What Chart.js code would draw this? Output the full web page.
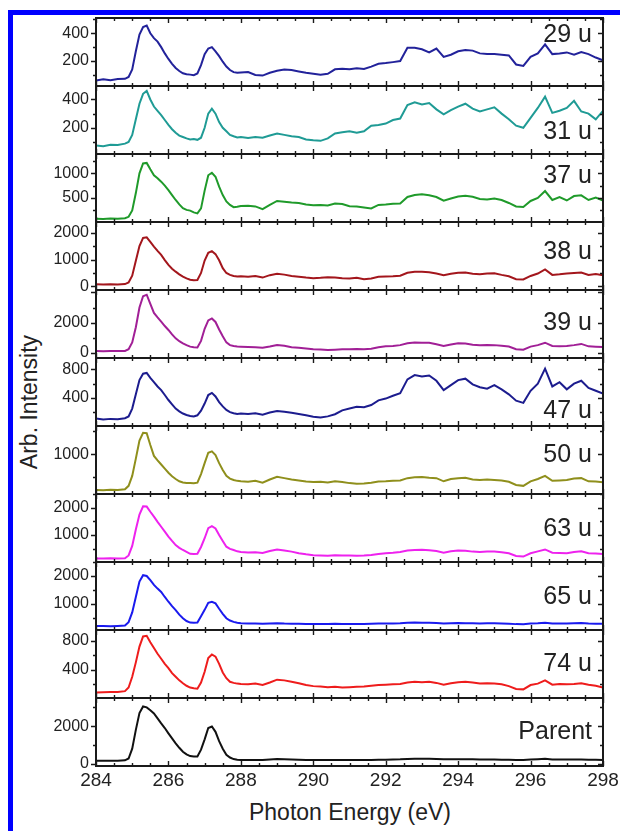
<!DOCTYPE html>
<html><head><meta charset="utf-8">
<script src="https://cdn.jsdelivr.net/npm/chart.js@4.4.1/dist/chart.umd.min.js"></script>
<style>
html,body{margin:0;padding:0;background:#fff;}
body{width:620px;height:831px;overflow:hidden;position:relative;font-family:"Liberation Sans",Arial,sans-serif;}
#frame{position:absolute;left:8px;top:10px;width:620px;height:830px;border-top:5px solid #0000ff;border-left:5px solid #0000ff;box-sizing:border-box;}
canvas{position:absolute;left:0;}
.lab{position:absolute;right:28px;font-size:25px;line-height:25px;color:#222;white-space:nowrap;}
#ytitle{position:absolute;left:29px;top:402px;width:240px;text-align:center;font-size:23px;line-height:23px;color:#222;transform:translate(-50%,-50%) rotate(-90deg);}
#xtitle{position:absolute;left:350px;top:801px;transform:translateX(-50%);font-size:23px;line-height:23px;color:#222;white-space:nowrap;}
</style></head>
<body>
<div id="frame"></div>
<div id="ytitle">Arb. Intensity</div>
<div id="xtitle">Photon Energy (eV)</div>
<script>
// Photon energy grid (eV)
const energy = [284.0,284.2,284.4,284.6,284.8,
284.9,285.0,285.1,285.2,285.3,285.4,285.5,285.6,285.7,285.8,285.9,286.0,286.1,286.2,286.3,286.4,286.5,286.6,286.7,286.8,286.9,287.0,287.1,287.2,287.3,287.4,287.5,287.6,287.7,287.8,287.9,
288.0,288.2,288.4,288.6,288.8,289.0,289.2,289.4,289.6,289.8,290.0,290.2,290.4,290.6,290.8,291.0,291.2,291.4,291.6,291.8,292.0,292.2,292.4,292.6,292.8,293.0,293.2,293.4,293.6,293.8,294.0,294.2,294.4,294.6,294.8,295.0,295.2,295.4,295.6,295.8,296.0,296.2,296.4,296.6,296.8,297.0,297.2,297.4,297.6,297.8,298.0];

const panelNames = ["29 u","31 u","37 u","38 u","39 u","47 u","50 u","63 u","65 u","74 u","Parent"];

const s29 = [60,68,62,70,72,
85,140,270,390,445,455,400,365,340,300,255,215,180,150,128,112,105,102,98,110,170,250,290,300,270,235,195,160,135,120,115,
118,120,100,95,115,130,138,135,125,115,108,102,108,140,145,140,148,142,160,180,185,192,200,295,295,285,262,290,230,245,270,280,275,255,250,250,245,240,175,165,230,255,320,250,255,262,245,265,250,225,205];
const s31 = [75,70,80,78,88,
100,150,260,370,440,460,400,350,320,290,255,220,190,165,145,135,125,118,120,115,130,200,300,335,300,240,200,175,150,140,132,
135,128,135,130,145,160,150,140,135,118,112,108,125,160,168,175,165,175,215,220,230,255,265,360,380,365,375,330,295,325,350,370,335,315,330,345,300,260,215,200,270,340,420,305,320,340,390,315,300,260,320];
const s37 = [80,75,85,82,90,
120,250,600,1000,1200,1210,1080,960,900,830,750,660,560,460,370,295,260,245,210,190,290,650,960,1010,930,730,560,430,360,315,325,
340,345,330,275,360,440,425,410,400,370,355,360,350,390,380,335,330,310,290,360,370,385,390,520,560,575,555,520,445,490,530,545,525,480,470,490,460,400,330,320,440,500,640,460,520,450,540,555,460,510,450];
const s38 = [80,70,85,75,90,
150,400,950,1500,1800,1820,1650,1480,1320,1170,980,800,660,550,450,365,300,250,235,240,500,960,1250,1310,1200,970,680,500,430,390,370,
380,360,385,330,420,470,440,390,360,330,310,320,345,330,310,300,320,270,300,360,370,380,400,510,550,545,530,480,420,470,510,520,470,450,480,490,430,380,270,260,390,480,630,430,450,480,500,520,430,460,420];
const s39 = [130,120,135,125,140,
250,700,1700,3000,3750,3850,3250,2650,2350,2070,1780,1520,1230,970,780,640,520,420,380,360,800,1600,2150,2280,2050,1550,1100,700,520,460,430,
420,400,380,350,430,530,480,380,340,300,250,230,200,220,240,250,260,240,280,380,440,470,520,640,690,680,670,580,470,560,640,620,540,520,530,520,480,430,250,220,420,520,680,470,450,460,520,600,440,420,390];
const s47 = [110,95,105,100,115,
140,250,450,650,740,750,680,620,560,510,440,370,310,250,210,180,160,145,140,155,220,320,440,470,420,340,280,230,200,185,175,
180,175,185,165,195,215,205,190,175,155,135,125,140,170,225,250,275,270,300,365,390,430,465,660,720,700,715,640,510,580,650,670,590,550,530,580,520,450,360,330,500,600,810,560,620,520,600,640,540,500,460];
const s50 = [210,205,215,210,225,
300,520,900,1300,1470,1460,1200,960,860,770,680,590,510,450,400,375,365,360,355,370,560,800,1030,1060,980,800,650,520,460,430,410,
400,390,410,370,440,500,470,440,420,395,385,390,375,400,385,360,345,350,370,395,400,410,420,470,490,495,480,470,400,450,470,480,440,430,440,430,420,390,320,300,400,450,520,410,420,430,460,470,400,395,380];
const s63 = [140,135,145,140,150,
250,600,1200,1750,2050,2040,1850,1670,1480,1300,1120,940,780,630,530,450,380,310,300,310,560,880,1250,1320,1240,1000,780,570,490,450,400,
380,360,370,340,410,470,430,390,330,290,260,250,240,255,250,245,240,250,270,300,330,350,380,430,450,455,440,410,350,400,430,420,390,380,390,395,370,330,230,210,330,400,470,350,340,330,380,400,330,320,300];
const s65 = [210,215,205,215,230,
350,700,1250,1800,2030,2000,1850,1680,1550,1430,1250,1080,920,780,620,490,390,335,325,340,560,790,1040,1080,1020,830,650,490,410,360,330,
310,300,305,290,300,315,300,295,290,285,280,285,280,290,285,280,285,280,290,300,305,300,310,330,335,330,325,320,300,315,320,315,310,305,310,310,305,295,280,275,300,310,330,300,305,300,310,320,300,295,290];
const s74 = [80,85,90,88,100,
150,300,500,720,860,870,780,700,620,550,480,420,350,300,250,210,175,150,140,135,220,370,560,610,580,480,360,280,230,215,205,
200,195,205,185,220,260,250,230,210,185,170,165,155,160,150,155,160,165,175,185,190,195,200,220,230,225,230,215,190,210,225,230,220,205,210,205,195,170,130,125,185,205,250,190,200,195,200,210,190,175,150];
const sParent = [160,165,160,165,180,
280,800,1800,2700,3050,3000,2850,2680,2420,2150,1900,1620,1350,1090,850,640,500,410,380,390,750,1300,1900,1980,1700,1200,800,480,330,250,215,
200,195,200,205,230,250,240,225,215,205,200,195,200,195,200,195,200,195,200,210,215,225,235,255,270,265,260,250,235,240,245,240,235,225,220,220,215,210,200,205,225,240,260,230,225,220,225,230,215,210,205];

const series = [s29,s31,s37,s38,s39,s47,s50,s63,s65,s74,sParent];
const colors = ["#22229a","#1f9b95","#1f9a2a","#a3161c","#a11f96","#1c1c8e","#8f8f1c","#ee22ee","#1a1aee","#ee1c1c","#111111"];

// y ranges and tick labels per panel
const yMin = [20,15,15,-130,-330,5,120,10,70,5,-120];
const yMax = [510,495,1390,2390,4160,960,1620,2500,2500,950,3500];
const yTickLabels = [[200,400],[200,400],[500,1000],[0,1000,2000],[0,2000],[400,800],[1000],[1000,2000],[1000,2000],[400,800],[0,2000]];
const yTickStep = [200,200,500,1000,2000,400,1000,1000,1000,400,2000];
const xTickLabels = [284,286,288,290,292,294,296,298];

const labelCenterY = [33,130,174,250,321,409,453,527,595,662,730];

const TOP = 18, BOTTOM = 766, N = 11, PH = (BOTTOM - TOP) / N, PAD = 14, YW = 96, RP = 17;

const framePlugin = {
  id: 'frameTicks',
  afterDatasetsDraw(chart, args, opts) {
    const {ctx, chartArea: a, scales: {x, y}} = chart;
    ctx.save();
    ctx.strokeStyle = '#1a1a1a';
    ctx.lineWidth = 1.4;
    ctx.beginPath();
    for (let v = 284; v <= 298.001; v += 0.5) {
      const px = Math.round(x.getPixelForValue(v)) + 0.5;
      const major = Math.abs(v / 2 - Math.round(v / 2)) < 1e-6;
      const len = major ? 5 : 3;
      ctx.moveTo(px, a.bottom); ctx.lineTo(px, a.bottom - len);
      ctx.moveTo(px, a.top); ctx.lineTo(px, a.top + len);
    }
    const st = opts.step / 2;
    const start = Math.ceil(y.min / st) * st;
    for (let v = start; v <= y.max; v += st) {
      const py = Math.round(y.getPixelForValue(v)) + 0.5;
      const major = Math.abs(v / opts.step - Math.round(v / opts.step)) < 1e-6;
      const len = major ? 5 : 3;
      ctx.moveTo(a.left - len, py); ctx.lineTo(a.left, py);
      ctx.moveTo(a.right, py); ctx.lineTo(a.right - len, py);
    }
    ctx.stroke();
    ctx.lineWidth = 2;
    ctx.strokeRect(a.left, a.top, a.right - a.left, a.bottom - a.top);
    ctx.restore();
  }
};

for (let i = 0; i < N; i++) {
  const last = i === N - 1;
  const pTop = TOP + i * PH;
  const cv = document.createElement('canvas');
  const h = last ? (831 - (pTop - PAD)) : (PH + 2 * PAD);
  cv.width = 620; cv.height = Math.round(h);
  cv.style.top = (pTop - PAD) + 'px';
  cv.style.width = '620px'; cv.style.height = Math.round(h) + 'px';
  document.body.appendChild(cv);

  const lab = document.createElement('div');
  lab.className = 'lab';
  lab.textContent = panelNames[i];
  lab.style.top = (labelCenterY[i] - 12.5) + 'px';
  document.body.appendChild(lab);

  const xAxisH = last ? (h - PAD - PH) : 0;
  new Chart(cv, {
    type: 'line',
    data: { datasets: [{
      data: energy.map((e, j) => ({x: e, y: series[i][j]})),
      borderColor: colors[i], borderWidth: 2, pointRadius: 0, tension: 0, fill: false
    }]},
    options: {
      responsive: false, animation: false, devicePixelRatio: 1,
      layout: { padding: { left: 0, right: RP, top: PAD, bottom: last ? 0 : PAD } },
      plugins: { legend: {display: false}, tooltip: {enabled: false}, frameTicks: {step: yTickStep[i]} },
      scales: {
        x: {
          type: 'linear', min: 284, max: 298, display: last,
          grid: {display: false, drawTicks: false},
          border: {display: false},
          ticks: { font: {family: 'Liberation Sans', size: 19}, color: '#222', padding: 3, maxRotation: 0,
                   callback: v => String(v) },
          afterBuildTicks: s => { s.ticks = xTickLabels.map(v => ({value: v})); },
          afterFit: s => { s.height = xAxisH; s.paddingLeft = 0; s.paddingRight = 0; }
        },
        y: {
          type: 'linear', min: yMin[i], max: yMax[i],
          grid: {display: false, drawTicks: false},
          border: {display: false},
          ticks: { font: {family: 'Liberation Sans', size: 16}, color: '#222', padding: 7,
                   callback: v => String(v) },
          afterBuildTicks: s => { s.ticks = yTickLabels[i].map(v => ({value: v})); },
          afterFit: s => { s.width = YW; s.paddingTop = 0; s.paddingBottom = 0; }
        }
      }
    },
    plugins: [framePlugin]
  });
}
</script>
</body></html>
